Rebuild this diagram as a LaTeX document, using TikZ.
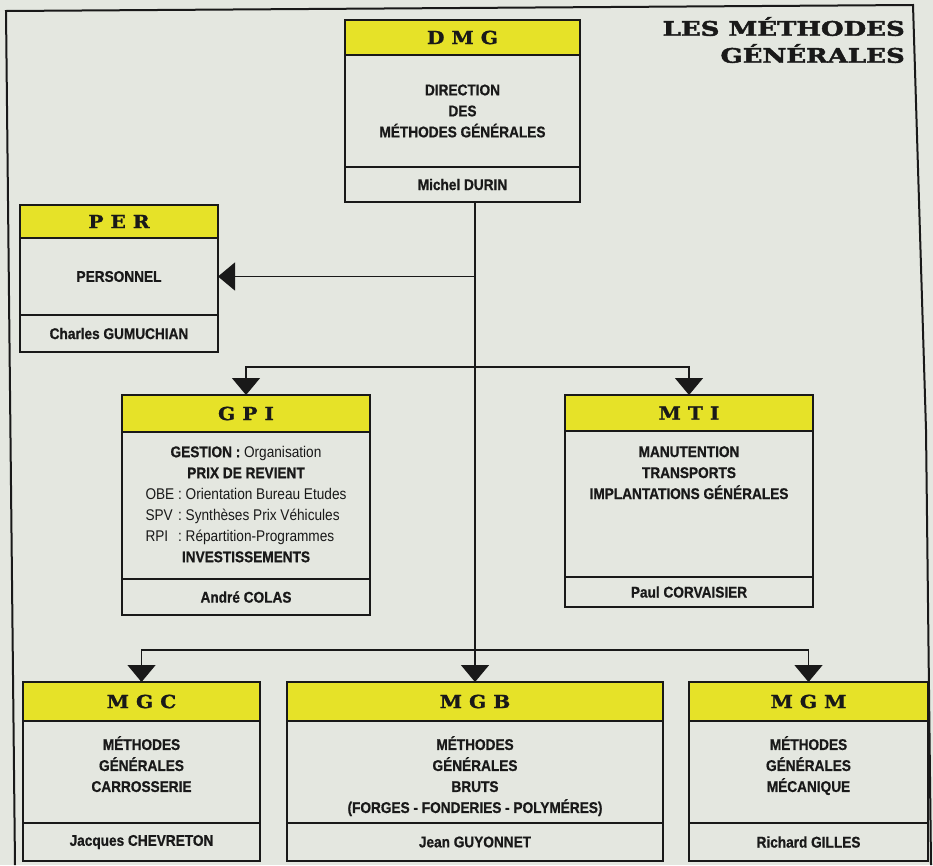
\documentclass[tikz,border=0pt]{standalone}
\usepackage{fontspec}
\usepackage{array}
\usepackage{tikz}
\usetikzlibrary{positioning,arrows.meta}
\setmainfont[FakeStretch=0.88,BoldFeatures={FakeBold=0.8}]{Liberation Sans}
\newfontfamily\codefont[FakeStretch=1.12,FakeBold=1.2]{DejaVu Serif}
\newfontfamily\titlefont[FakeStretch=1.3,FakeBold=2.2]{DejaVu Serif}
\definecolor{paper}{RGB}{228,231,224}
\definecolor{hdryellow}{RGB}{230,226,40}
\definecolor{ink}{RGB}{25,25,25}

\begin{document}
\begin{tikzpicture}[x=1pt, y=-1pt,
    orgbox/.style={draw=ink, line width=1.8pt, inner sep=0pt, outer sep=0pt},
    head/.style={orgbox, fill=hdryellow, text=ink, font=\codefont\bfseries\fontsize{18pt}{20pt}\selectfont},
    cell/.style={orgbox},
    foot/.style={orgbox, text=ink, font=\bfseries\fontsize{15.5pt}{21pt}\selectfont},
    txt/.style={inner sep=0pt, align=center, text=ink, font=\bfseries\fontsize{15.5pt}{21pt}\selectfont},
    arr/.style={draw=ink, line width=1.4pt, -{Triangle[length=17pt,width=28pt]}},
    pageframe/.style={draw=ink, line width=2pt},
    title/.style={inner sep=0pt, align=right, text=ink, font=\titlefont\bfseries\fontsize{20pt}{27pt}\selectfont}]

  \fill[paper] (0,0) rectangle (933,865);
  \useasboundingbox (0,0) rectangle (933,865);

  % page frame
  \coordinate (tl) at (6,11);
  \coordinate (tr) at (913,5);
  \coordinate (rm) at (926,430);
  \coordinate (br) at (931,865);
  \coordinate (bl) at (15,865);
  \draw[pageframe] (bl) -- (tl) -- (tr) -- (rm) -- (br);

  \node[title, anchor=north east] (title) at (905,17) {LES MÉTHODES\\GÉNÉRALES};

  % DMG
  \node[head, minimum width=235pt, minimum height=35pt, anchor=north west] (dmg) at (345,20) {D M G};
  \node[cell, minimum width=235pt, minimum height=112pt, below=0pt of dmg] (dmg-body) {};
  \node[foot, minimum width=235pt, minimum height=35pt, below=0pt of dmg-body] (dmg-name) {Michel DURIN};
  \node[txt] (dmg-text) at (dmg-body) {DIRECTION\\DES\\MÉTHODES GÉNÉRALES};

  % PER
  \node[head, minimum width=198pt, minimum height=33pt, anchor=north west] (per) at (20,205) {P E R};
  \node[cell, minimum width=198pt, minimum height=77pt, below=0pt of per] (per-body) {};
  \node[foot, minimum width=198pt, minimum height=37pt, below=0pt of per-body] (per-name) {Charles GUMUCHIAN};
  \node[txt] (per-text) at (per-body) {PERSONNEL};

  % GPI
  \node[head, minimum width=248pt, minimum height=37pt, anchor=north west] (gpi) at (122,395) {G P I};
  \node[cell, minimum width=248pt, minimum height=147pt, below=0pt of gpi] (gpi-body) {};
  \node[foot, minimum width=248pt, minimum height=36pt, below=0pt of gpi-body] (gpi-name) {André COLAS};
  \node[txt] (gpi-text) at (gpi-body) {%
    \begin{tabular}{@{}>{\mdseries}l@{\mdseries\ :\ }>{\mdseries}l@{}}
      \multicolumn{2}{c}{GESTION : \mdseries Organisation}\\
      \multicolumn{2}{c}{PRIX DE REVIENT}\\
      OBE & Orientation Bureau Etudes\\
      SPV & Synthèses Prix Véhicules\\
      RPI & Répartition-Programmes\\
      \multicolumn{2}{c}{INVESTISSEMENTS}
    \end{tabular}};

  % MTI
  \node[head, minimum width=248pt, minimum height=36pt, anchor=north west] (mti) at (565,395) {M T I};
  \node[cell, minimum width=248pt, minimum height=146pt, below=0pt of mti] (mti-body) {};
  \node[foot, minimum width=248pt, minimum height=30pt, below=0pt of mti-body] (mti-name) {Paul CORVAISIER};
  \node[txt, anchor=north] (mti-text) at ([yshift=-15pt]mti-body.north) {MANUTENTION\\TRANSPORTS\\IMPLANTATIONS GÉNÉRALES};

  % MGC
  \node[head, minimum width=237pt, minimum height=39pt, anchor=north west] (mgc) at (23,682) {M G C};
  \node[cell, minimum width=237pt, minimum height=102pt, below=0pt of mgc] (mgc-body) {};
  \node[foot, minimum width=237pt, minimum height=38pt, below=0pt of mgc-body] (mgc-name) {Jacques CHEVRETON};
  \node[txt, anchor=north] (mgc-text) at ([yshift=-15pt]mgc-body.north) {MÉTHODES\\GÉNÉRALES\\CARROSSERIE};

  % MGB
  \node[head, minimum width=376pt, minimum height=39pt, anchor=north west] (mgb) at (287,682) {M G B};
  \node[cell, minimum width=376pt, minimum height=102pt, below=0pt of mgb] (mgb-body) {};
  \node[foot, minimum width=376pt, minimum height=38pt, below=0pt of mgb-body] (mgb-name) {Jean GUYONNET};
  \node[txt, anchor=north] (mgb-text) at ([yshift=-15pt]mgb-body.north) {MÉTHODES\\GÉNÉRALES\\BRUTS\\(FORGES - FONDERIES - POLYMÉRES)};

  % MGM
  \node[head, minimum width=239pt, minimum height=39pt, anchor=north west] (mgm) at (689,682) {M G M};
  \node[cell, minimum width=239pt, minimum height=102pt, below=0pt of mgm] (mgm-body) {};
  \node[foot, minimum width=239pt, minimum height=38pt, below=0pt of mgm-body] (mgm-name) {Richard GILLES};
  \node[txt, anchor=north] (mgm-text) at ([yshift=-15pt]mgm-body.north) {MÉTHODES\\GÉNÉRALES\\MÉCANIQUE};

  % links
  \coordinate (j-per) at (per-body.east -| mgb.north);
  \path (mgb.north |- 0,367) coordinate (j-mid);
  \path (mgb.north |- 0,650) coordinate (j-low);
  \draw[arr] (dmg-name.south -| mgb.north) -- (mgb.north);
  \draw[arr] (j-per) -- (per-body.east);
  \draw[arr] (j-mid) -| (gpi.north);
  \draw[arr] (j-mid) -| (mti.north);
  \draw[arr] (j-low) -| (mgc.north);
  \draw[arr] (j-low) -| (mgm.north);
\end{tikzpicture}
\end{document}
